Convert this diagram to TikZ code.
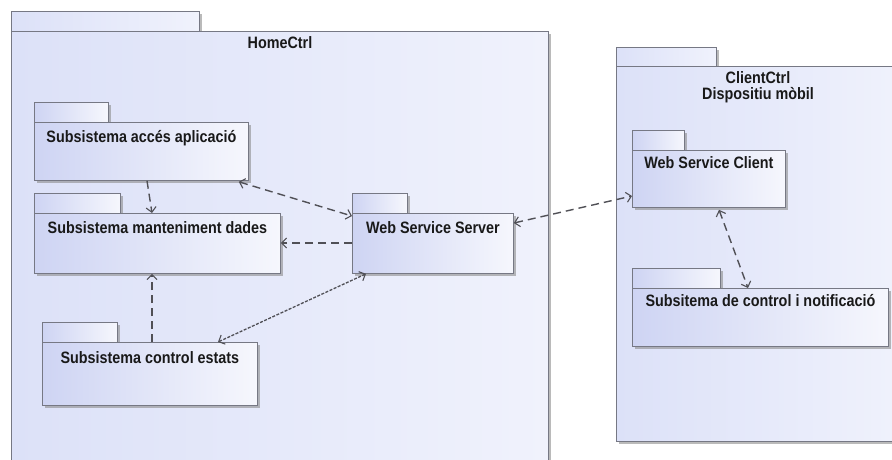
\documentclass[tikz,border=0pt]{standalone}
\usepackage{fontspec}
\setmainfont{Liberation Sans}[FakeStretch=0.87]
\usetikzlibrary{arrows.meta,shadows}
\definecolor{pkdark}{RGB}{206,212,243}
\definecolor{pklight}{RGB}{246,247,253}
\definecolor{frdark}{RGB}{220,225,248}
\definecolor{frlight}{RGB}{240,242,252}
\definecolor{edge}{RGB}{118,120,132}
\definecolor{wire}{RGB}{80,80,86}
\tikzset{
  x=1pt, y=-1pt,
  pkgbox/.style={draw=edge, line width=0.8pt, left color=pkdark, right color=pklight,
    inner sep=0pt, anchor=north west,
    drop shadow={shadow xshift=2.5pt, shadow yshift=-2.5pt, fill=black!45, opacity=0.6}},
  framebox/.style={draw=edge, line width=0.8pt, left color=frdark, right color=frlight,
    inner sep=0pt, anchor=north west,
    drop shadow={shadow xshift=3pt, shadow yshift=-3pt, fill=black!45, opacity=0.6}},
  tablabel/.style={font=\bfseries\fontsize{16.5}{17.5}\selectfont, text=black!90, inner sep=0pt, anchor=north},
  dep/.style={draw=wire, line width=1.4pt, dash pattern=on 8pt off 5pt,
    -{Straight Barb[length=5pt,width=10pt,line width=1.1pt]}},
  dep2/.style={dep, {Straight Barb[length=5pt,width=10pt,line width=1.1pt]}-{Straight Barb[length=5pt,width=10pt,line width=1.1pt]}},
  fine2/.style={draw=wire, line width=1.3pt, dash pattern=on 3pt off 1.5pt,
    {Straight Barb[length=5pt,width=10pt,line width=1.1pt]}-{Straight Barb[length=5pt,width=10pt,line width=1.1pt]}},
}
% package: name, x, y (top of body), width, height, tab width, tab height, style
\newcommand{\umlpkg}[8]{%
  \node[#8, minimum width=#6, minimum height=#7] (#1-tab) at (#2,#3-#7) {};
  \node[#8, minimum width=#4, minimum height=#5] (#1) at (#2,#3) {};
}
\begin{document}
\begin{tikzpicture}
\useasboundingbox (0,0) rectangle (892,459);
\fill[white] (0,0) rectangle (892,459);

% outer frames
\umlpkg{home}{11}{31}{537}{440}{188}{20}{framebox}
\node[tablabel] (home-t) at (280,36) {HomeCtrl};
\umlpkg{client}{616}{66}{290}{375}{100}{19}{framebox}
\node[tablabel, align=center] (client-t) at (758,71) {ClientCtrl\\[-1pt]Dispositiu mòbil};

% inner packages
\umlpkg{acces}{34}{122}{214}{58}{74}{20}{pkgbox}
\node[tablabel] (acces-t) at ([yshift=-8]acces.north) {Subsistema accés aplicació};
\umlpkg{mant}{34}{213}{246}{60}{86}{20}{pkgbox}
\node[tablabel] (mant-t) at ([yshift=-8]mant.north) {Subsistema manteniment dades};
\umlpkg{ctrl}{42}{342}{215}{63}{75}{20}{pkgbox}
\node[tablabel] (ctrl-t) at ([yshift=-9]ctrl.north) {Subsistema control estats};
\umlpkg{wss}{352}{213}{161}{60}{55}{20}{pkgbox}
\node[tablabel] (wss-t) at ([yshift=-8]wss.north) {Web Service Server};
\umlpkg{wsc}{632}{150}{153}{57}{52}{20}{pkgbox}
\node[tablabel] (wsc-t) at ([yshift=-6]wsc.north) {Web Service Client};
\umlpkg{notif}{632}{288}{256}{58}{88}{20}{pkgbox}
\node[tablabel] (notif-t) at ([yshift=-6]notif.north) {Subsitema de control i notificació};

% dependencies
\draw[dep] ([xshift=113]acces.south west) -- ([xshift=118]mant.north west);
\draw[dep2] ([xshift=-10,yshift=-1]acces.south east) -- ([yshift=-3]wss.north west);
\draw[dep] ([yshift=-30]wss.north west) -- ([yshift=-30]mant.north east);
\draw[dep] ([xshift=110]ctrl.north west) -- ([xshift=118]mant.south west);
\draw[fine2] ([xshift=176]ctrl.north west) -- ([xshift=14]wss.south west);
\draw[dep2] ([yshift=-10]wss.north east) -- ([yshift=-46]wsc.north west);
\draw[dep2] ([xshift=87,yshift=-2]wsc.south west) -- ([xshift=116]notif.north west);
\end{tikzpicture}
\end{document}
